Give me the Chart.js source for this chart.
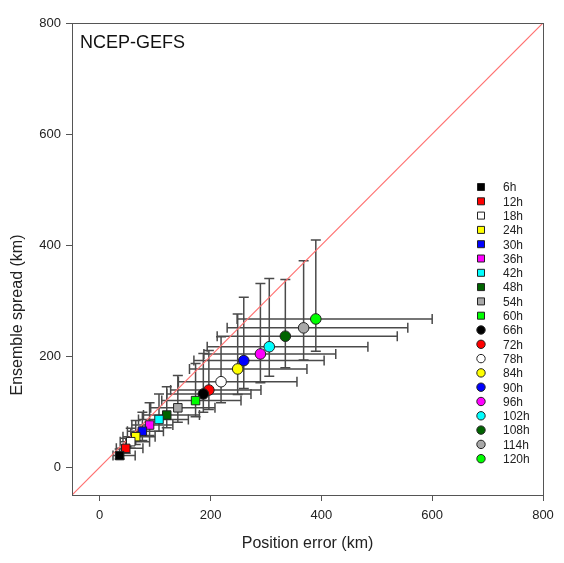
<!DOCTYPE html>
<html>
<head>
<meta charset="utf-8">
<script src="https://cdn.jsdelivr.net/npm/chart.js@4.4.1/dist/chart.umd.min.js"></script>
<style>
  html, body { margin: 0; padding: 0; background: #fff; }
  #wrap { width: 564px; height: 563px; position: relative; }
</style>
</head>
<body>
<div id="wrap"><canvas id="chart"></canvas></div>
<script>
// lead times and their marker styles
const leadTimes = ['6h', '12h', '18h', '24h', '30h', '36h', '42h', '48h', '54h', '60h',
  '66h', '72h', '78h', '84h', '90h', '96h', '102h', '108h', '114h', '120h'];
const markerColors = ['#000000', '#ff0000', '#ffffff', '#ffff00', '#0000ff', '#ff00ff', '#00ffff', '#006400', '#a8a8a8', '#00ff00',
  '#000000', '#ff0000', '#ffffff', '#ffff00', '#0000ff', '#ff00ff', '#00ffff', '#006400', '#a8a8a8', '#00ff00'];

// position error (x) with lower / upper whisker ends
const posError = [36, 47, 56, 65, 77, 90, 107, 121, 141, 173, 187, 197, 219, 249, 260, 290, 306, 335, 368, 390];
const posErrorLow = [24, 30, 37, 42, 50, 58, 70, 79, 92, 112, 121, 128, 142, 162, 170, 188, 194, 212, 230, 248];
const posErrorHigh = [64, 78, 90, 100, 115, 132, 160, 180, 208, 255, 273, 291, 356, 374, 405, 426, 484, 537, 556, 600];

// ensemble spread (y) with lower / upper whisker ends
const spread = [21, 34, 46, 55, 65, 76, 86, 94, 107, 120, 132, 139, 154, 177, 192, 204, 217, 236, 251, 267];
const spreadLow = [15, 25, 34, 41, 48, 57, 65, 71, 81, 91, 99, 104, 116, 131, 142, 152, 164, 179, 193, 209];
const spreadHigh = [33, 52, 70, 84, 99, 116, 132, 145, 165, 187, 205, 210, 235, 276, 306, 331, 340, 338, 372, 409];

// 1:1 reference line and axes
const diagonal = [-50, 800];
const xTicks = [0, 200, 400, 600, 800];
const yTicks = [0, 200, 400, 600, 800];

const FONT = "'Liberation Sans', Arial, sans-serif";

const datasets = leadTimes.map((lt, i) => ({
  type: 'scatter',
  label: lt,
  data: [{ x: posError[i], y: spread[i] }],
  pointStyle: i < 10 ? 'rect' : 'circle',
  pointRadius: i < 10 ? 6 : 5.3,
  backgroundColor: markerColors[i],
  borderColor: '#222',
  borderWidth: 1,
  order: 0
}));

datasets.push({
  type: 'line',
  label: '1:1',
  data: diagonal.map(v => ({ x: v, y: v })),
  borderColor: '#ff7070',
  borderWidth: 1.2,
  pointRadius: 0,
  fill: false,
  order: 100
});

// draws the whiskers through the chart scales
const errorBars = {
  id: 'errorBars',
  beforeDatasetsDraw(chart) {
    const { ctx, scales: { x, y } } = chart;
    const cap = 5;
    ctx.save();
    ctx.strokeStyle = '#4a4a4a';
    ctx.lineWidth = 1.5;
    leadTimes.forEach((_, i) => {
      const cx = x.getPixelForValue(posError[i]);
      const cy = y.getPixelForValue(spread[i]);
      const x0 = x.getPixelForValue(posErrorLow[i]);
      const x1 = x.getPixelForValue(posErrorHigh[i]);
      const y0 = y.getPixelForValue(spreadLow[i]);
      const y1 = y.getPixelForValue(spreadHigh[i]);
      ctx.beginPath();
      ctx.moveTo(x0, cy); ctx.lineTo(x1, cy);
      ctx.moveTo(x0, cy - cap); ctx.lineTo(x0, cy + cap);
      ctx.moveTo(x1, cy - cap); ctx.lineTo(x1, cy + cap);
      ctx.moveTo(cx, y0); ctx.lineTo(cx, y1);
      ctx.moveTo(cx - cap, y0); ctx.lineTo(cx + cap, y0);
      ctx.moveTo(cx - cap, y1); ctx.lineTo(cx + cap, y1);
      ctx.stroke();
    });
    ctx.restore();
  }
};

// frame, panel label, y title and the in-plot legend
const decorations = {
  id: 'decorations',
  afterDatasetsDraw(chart) {
    const { ctx, chartArea: a } = chart;
    ctx.save();
    ctx.strokeStyle = '#555';
    ctx.lineWidth = 1;
    ctx.strokeRect(a.left + 0.5, a.top + 0.5, a.right - a.left, a.bottom - a.top);

    ctx.fillStyle = '#111';
    ctx.font = '18px ' + FONT;
    ctx.textBaseline = 'alphabetic';
    ctx.textAlign = 'left';
    ctx.fillText('NCEP-GEFS', a.left + 8, a.top + 25);

    // y axis title, sits a little below the axis centre in the original
    ctx.save();
    ctx.translate(18, 315);
    ctx.rotate(-Math.PI / 2);
    ctx.textAlign = 'center';
    ctx.textBaseline = 'middle';
    ctx.font = '16px ' + FONT;
    ctx.fillStyle = '#222';
    ctx.fillText('Ensemble spread (km)', 0, 0);
    ctx.restore();

    const mx = 481, tx = 503, top = 187, step = 14.3;
    ctx.font = '12px ' + FONT;
    ctx.textBaseline = 'middle';
    leadTimes.forEach((lt, i) => {
      const yy = top + i * step;
      ctx.fillStyle = markerColors[i];
      ctx.strokeStyle = '#222';
      ctx.lineWidth = 1;
      ctx.beginPath();
      if (i < 10) ctx.rect(mx - 3.5, yy - 3.5, 7, 7);
      else ctx.arc(mx, yy, 4.2, 0, Math.PI * 2);
      ctx.fill();
      ctx.stroke();
      ctx.fillStyle = '#222';
      ctx.fillText(lt, tx, yy + 1);
    });
    ctx.restore();
  }
};

const axisCommon = (title, ticks) => ({
  type: 'linear',
  min: -50,
  max: 800,
  afterBuildTicks: s => { s.ticks = ticks.map(v => ({ value: v })); },
  grid: { drawOnChartArea: false, drawTicks: true, tickLength: 6, color: '#555' },
  border: { display: false },
  ticks: { color: '#222', font: { family: FONT, size: 13 }, padding: 5 },
  title: { display: true, text: title, color: '#222', font: { family: FONT, size: 16 } }
});

const xAxis = axisCommon('Position error (km)', xTicks);
xAxis.title.padding = { top: 0, bottom: 10 };
xAxis.ticks.padding = 7;
xAxis.afterFit = s => { s.height = 68; };

// y title is drawn by the decorations plugin
const yAxis = axisCommon('', yTicks);
yAxis.title.display = false;
yAxis.afterFit = s => { s.width = 72; };

new Chart(document.getElementById('chart'), {
  type: 'scatter',
  data: { datasets },
  options: {
    responsive: true,
    maintainAspectRatio: false,
    animation: false,
    layout: { padding: { top: 23, right: 21, left: 0, bottom: 0 } },
    plugins: { legend: { display: false }, tooltip: { enabled: false } },
    scales: { x: xAxis, y: yAxis }
  },
  plugins: [errorBars, decorations]
});
</script>
</body>
</html>
